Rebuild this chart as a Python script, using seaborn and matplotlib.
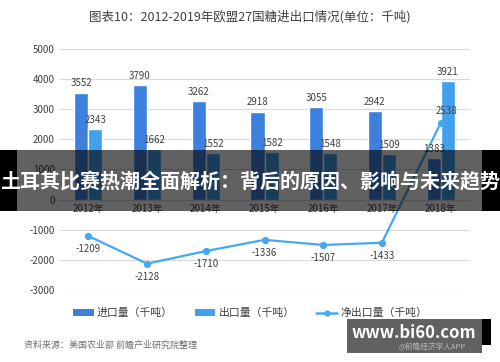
import numpy as np
import pandas as pd
import matplotlib
matplotlib.use("Agg")
import matplotlib.pyplot as plt
import seaborn as sns
from matplotlib.patches import Patch, Rectangle
from matplotlib.lines import Line2D

sns.set_theme(style="white")
plt.rcParams['font.family'] = ['Noto Sans CJK SC', 'DejaVu Sans']
plt.rcParams['axes.unicode_minus'] = False

years = ["2012年", "2013年", "2014年", "2015年", "2016年", "2017年", "2018年"]
imports = [3552, 3790, 3262, 2918, 3055, 2942, 1383]
exports = [2343, 1662, 1552, 1582, 1548, 1509, 3921]
net = [-1209, -2128, -1710, -1336, -1507, -1433, 2538]
series_names = ["进口量（千吨）", "出口量（千吨）", "净出口量（千吨）"]
yticks = [-3000, -2000, -1000, 0, 1000, 2000, 3000, 4000, 5000]

c_imp = "#3D80DE"
c_exp = "#40A0EC"
c_net = "#47A8F2"
txt = "#404040"

df = pd.DataFrame({
    "year": years * 2,
    "value": imports + exports,
    "kind": [series_names[0]] * len(years) + [series_names[1]] * len(years),
})
dnet = pd.DataFrame({"year": years, "net": net})

fig = plt.figure(figsize=(5, 3.62), dpi=100)
ax = fig.add_axes([0.118, 0.199, 0.822, 0.666])

sns.barplot(data=df, x="year", y="value", hue="kind", order=years,
            hue_order=series_names[:2], palette=[c_imp, c_exp],
            width=0.48, gap=0, saturation=1, legend=False, ax=ax)
for cont in ax.containers:
    ax.bar_label(cont, fmt="%d", padding=3, fontsize=7, color=txt)

sns.pointplot(data=dnet, x="year", y="net", order=years, color=c_net,
              markers="o", markersize=4, linewidth=1.6, errorbar=None, ax=ax)

for i, v in enumerate(net):
    if v < 0:
        ax.annotate(str(v), (i, v), xytext=(0, -6), textcoords="offset points",
                    ha="center", va="top", fontsize=7, color=txt)
    else:
        ax.annotate(str(v), (i, v), xytext=(4, 5), textcoords="offset points",
                    ha="center", va="bottom", fontsize=7, color=txt)

ax.set_xlim(-0.5, len(years) - 0.5)
ax.set_ylim(-3000, 5000)
ax.set_yticks(yticks)
ax.set_yticklabels([str(t) for t in yticks])
ax.yaxis.grid(True, color="#D9D9D9", linewidth=0.8)
ax.set_axisbelow(True)
for s in ["top", "right", "left"]:
    ax.spines[s].set_visible(False)
ax.spines["bottom"].set_position(("data", 0))
ax.spines["bottom"].set_color("#D9D9D9")
ax.spines["bottom"].set_linewidth(0.8)
ax.tick_params(axis="both", length=0, labelsize=7, colors=txt, pad=3)
ax.set_xlabel("")
ax.set_ylabel("")

fig.text(0.5, 0.955, "图表10：2012-2019年欧盟27国糖进出口情况(单位：千吨)",
         ha="center", va="center", fontsize=9, color=txt)

handles = [Patch(facecolor=c_imp, edgecolor="none"),
           Patch(facecolor=c_exp, edgecolor="none"),
           Line2D([0], [0], color=c_net, lw=1.8, marker="o", markersize=3.5)]
fig.legend(handles, series_names, loc="center", bbox_to_anchor=(0.5, 0.135),
           ncol=3, frameon=False, fontsize=7.8, handlelength=1.9,
           handleheight=0.5, handletextpad=0.3, columnspacing=2.0,
           labelcolor=txt)

fig.text(0.048, 0.047, "资料来源：美国农业部 前瞻产业研究院整理",
         ha="left", va="center", fontsize=6.5, color="#707070", style="italic")

# overlay banner
H, W = 362, 500
def frect(x0, y0, x1, y1, **kw):
    fig.patches.append(Rectangle((x0 / W, 1 - y1 / H), (x1 - x0) / W, (y1 - y0) / H,
                                 transform=fig.transFigure, zorder=10, **kw))

frect(0, 150, 17, 211, facecolor="black", edgecolor="none")
frect(482, 150, 500, 211, facecolor="black", edgecolor="none")
frect(17, 150, 482, 211, facecolor="black", alpha=0.62, edgecolor="none")
fig.text(0.5, 1 - 182 / H, "土耳其比赛热潮全面解析：背后的原因、影响与未来趋势",
         ha="center", va="center", fontsize=14.4, color="white",
         fontweight="bold", zorder=11)

frect(347, 319, 482, 353, facecolor="black", alpha=0.62, edgecolor="none")
frect(482, 319, 491, 345, facecolor="black", edgecolor="none")
fig.text(414 / W, 1 - 333 / H, "www.bi60.com", ha="center", va="center",
         fontsize=12, color="white", fontweight="bold", zorder=11)
fig.text(432 / W, 1 - 347 / H, "@前瞻经济学人APP", ha="center", va="center",
         fontsize=5.5, color="#BBBBBB", zorder=11)

fig.savefig("out.png", dpi=100)
